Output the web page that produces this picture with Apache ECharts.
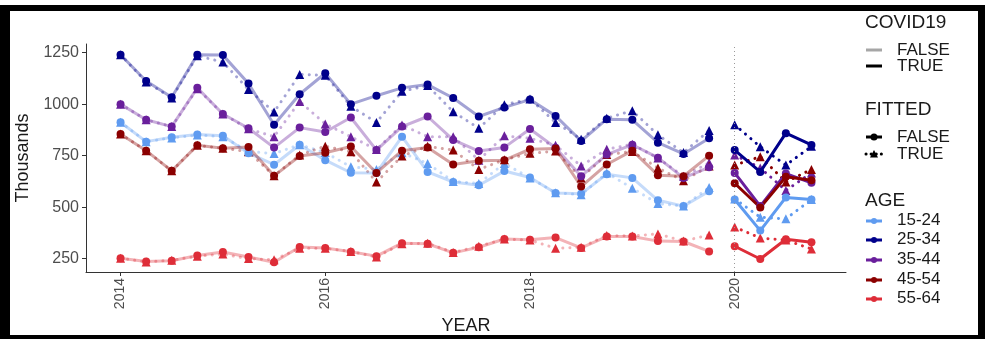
<!DOCTYPE html>
<html>
<head>
<meta charset="utf-8">
<script src="https://cdn.jsdelivr.net/npm/echarts@6/dist/echarts.min.js"></script>
<style>
  html, body { margin: 0; padding: 0; background: #ffffff; }
  #chart { width: 985px; height: 339px; }
</style>
</head>
<body>
<div id="chart"></div>
<script>
// Quarterly time points (decimal years)
const quartersPre = [2014, 2014.25, 2014.5, 2014.75, 2015, 2015.25, 2015.5, 2015.75,
                     2016, 2016.25, 2016.5, 2016.75, 2017, 2017.25, 2017.5, 2017.75,
                     2018, 2018.25, 2018.5, 2018.75, 2019, 2019.25, 2019.5, 2019.75];
const quartersCovid = [2020, 2020.25, 2020.5, 2020.75];

const ageGroups = ['15-24', '25-34', '35-44', '45-54', '55-64'];
const yearTicks = [2014, 2016, 2018, 2020];
const valueTicks = [250, 500, 750, 1000, 1250];

// Employment (thousands), observed and fitted, before 2020
const actual1524Pre = [912, 818, 839, 853, 846, 762, 706, 803, 728, 667, 666, 842, 671, 622, 606, 675, 644, 569, 565, 660, 642, 533, 505, 577];
const fitted1524Pre = [912, 818, 836, 850, 842, 770, 760, 803, 765, 696, 683, 764, 712, 625, 615, 712, 642, 570, 560, 666, 592, 517, 505, 595];
const actual2534Pre = [1240, 1112, 1033, 1240, 1238, 1100, 900, 1048, 1150, 1000, 1041, 1079, 1095, 1030, 940, 984, 1022, 943, 821, 927, 924, 813, 758, 834];
const fitted2534Pre = [1240, 1108, 1030, 1235, 1204, 1071, 962, 1144, 1140, 990, 911, 1062, 1090, 963, 883, 997, 1025, 911, 830, 932, 968, 851, 765, 872];
const actual3544Pre = [1000, 924, 891, 1079, 952, 883, 789, 886, 865, 935, 777, 891, 940, 826, 772, 790, 879, 788, 650, 755, 803, 740, 642, 693];
const fitted3544Pre = [1000, 924, 891, 1075, 952, 880, 842, 1013, 904, 842, 780, 899, 842, 842, 728, 846, 834, 800, 700, 781, 805, 738, 650, 715];
const actual4554Pre = [855, 774, 676, 800, 786, 792, 652, 748, 764, 794, 666, 774, 790, 707, 725, 728, 781, 785, 600, 707, 774, 655, 650, 750];
const fitted4554Pre = [855, 774, 676, 800, 786, 769, 652, 753, 796, 769, 622, 748, 795, 777, 683, 730, 761, 772, 642, 755, 770, 690, 628, 700];
const actual5564Pre = [252, 236, 240, 265, 282, 258, 232, 306, 302, 283, 262, 325, 322, 278, 305, 345, 342, 352, 302, 357, 357, 335, 333, 285];
const fitted5564Pre = [252, 234, 242, 262, 272, 250, 245, 300, 300, 285, 258, 322, 325, 280, 310, 345, 340, 300, 305, 362, 360, 370, 335, 365];

// Employment (thousands), observed and fitted, 2020
const actual1524Covid = [537, 386, 547, 537];
const fitted1524Covid = [540, 451, 443, 537];
const actual2534Covid = [777, 671, 859, 802];
const fitted2534Covid = [900, 793, 704, 795];
const actual3544Covid = [666, 505, 663, 618];
const fitted3544Covid = [753, 690, 581, 666];
const actual4554Covid = [616, 498, 647, 631];
const fitted4554Covid = [704, 745, 622, 683];
const actual5564Covid = [310, 248, 344, 330];
const fitted5564Covid = [403, 350, 340, 297];

const actualPre = [actual1524Pre, actual2534Pre, actual3544Pre, actual4554Pre, actual5564Pre];
const fittedPre = [fitted1524Pre, fitted2534Pre, fitted3544Pre, fitted4554Pre, fitted5564Pre];
const actualCovid = [actual1524Covid, actual2534Covid, actual3544Covid, actual4554Covid, actual5564Covid];
const fittedCovid = [fitted1524Covid, fitted2534Covid, fitted3544Covid, fitted4554Covid, fitted5564Covid];

// Colours per age group
const ageColors = ['#5f9bf0', '#00008b', '#6a1f9c', '#8b0000', '#de2d38'];

function hexToRgba(hex, a) {
  const n = parseInt(hex.slice(1), 16);
  return 'rgba(' + ((n >> 16) & 255) + ',' + ((n >> 8) & 255) + ',' + (n & 255) + ',' + a + ')';
}
function pairs(xs, ys) { return xs.map((x, i) => [x, ys[i]]); }

const FONT = 'Liberation Sans, Arial, sans-serif';
const dotted = [0.1, 7];
const series = [];

ageGroups.forEach((age, k) => {
  const col = ageColors[k];
  const faded = hexToRgba(col, 0.36);
  // pre-2020 fitted (dotted, triangles)
  series.push({
    name: age + ' fitted pre', type: 'line', data: pairs(quartersPre, fittedPre[k]),
    symbol: 'triangle', symbolSize: 9, itemStyle: { color: col },
    lineStyle: { color: faded, width: 3, type: dotted, cap: 'round' },
    z: 2
  });
  // pre-2020 observed (solid, circles)
  series.push({
    name: age + ' actual pre', type: 'line', data: pairs(quartersPre, actualPre[k]),
    symbol: 'circle', symbolSize: 8, itemStyle: { color: col },
    lineStyle: { color: faded, width: 3 },
    z: 3
  });
  // 2020 fitted
  series.push({
    name: age + ' fitted covid', type: 'line', data: pairs(quartersCovid, fittedCovid[k]),
    symbol: 'triangle', symbolSize: 9, itemStyle: { color: col },
    lineStyle: { color: col, width: 3, type: dotted, cap: 'round' },
    z: 2
  });
  // 2020 observed
  series.push({
    name: age + ' actual covid', type: 'line', data: pairs(quartersCovid, actualCovid[k]),
    symbol: 'circle', symbolSize: 8, itemStyle: { color: col },
    lineStyle: { color: col, width: 3 },
    z: 3
  });
});

// Dotted marker for the start of 2020
series[0].markLine = {
  silent: true, symbol: 'none', animation: false,
  label: { show: false },
  lineStyle: { color: '#9a9a9a', width: 1, type: [1, 3] },
  data: [{ xAxis: 2020 }]
};

// Legend drawn as graphic elements (three titled groups)
const legendX = 866, textX = 897;
const g = [];
function keyLine(y, color, dash) {
  g.push({ type: 'line', shape: { x1: legendX, y1: y, x2: legendX + 16, y2: y },
           style: { stroke: color, lineWidth: 3, lineDash: dash || null, lineCap: dash ? 'round' : 'butt' } });
}
function label(x, y, s, size) {
  g.push({ type: 'text', left: x, top: y, style: { text: s, fill: '#1a1a1a', font: size + 'px ' + FONT } });
}
// frame
g.push({ type: 'rect', shape: { x: 0, y: 5, width: 10, height: 334 }, style: { fill: '#000' } });
g.push({ type: 'rect', shape: { x: 0, y: 5, width: 985, height: 6 }, style: { fill: '#000' } });
g.push({ type: 'rect', shape: { x: 978, y: 5, width: 7, height: 334 }, style: { fill: '#000' } });
g.push({ type: 'rect', shape: { x: 0, y: 335, width: 985, height: 4 }, style: { fill: '#000' } });

// COVID19 group
label(865, 13, 'COVID19', 19);
keyLine(50, '#a6a6a6');
keyLine(66, '#000000');
label(textX, 42, 'FALSE', 17);
label(textX, 58, 'TRUE', 17);

// FITTED group
label(865, 100, 'FITTED', 19);
keyLine(137, '#000000');
g.push({ type: 'circle', shape: { cx: legendX + 8, cy: 137, r: 3.5 }, style: { fill: '#000' } });
keyLine(154, '#000000', [0.1, 5]);
g.push({ type: 'polygon', shape: { points: [[legendX + 8, 150], [legendX + 12, 157.5], [legendX + 4, 157.5]] }, style: { fill: '#000' } });
label(textX, 129, 'FALSE', 17);
label(textX, 146, 'TRUE', 17);

// AGE group
label(865, 191, 'AGE', 19);
const ageY = [221, 240, 260, 280, 299];
ageGroups.forEach((age, k) => {
  keyLine(ageY[k], ageColors[k]);
  g.push({ type: 'circle', shape: { cx: legendX + 8, cy: ageY[k], r: 3 }, style: { fill: ageColors[k] } });
  label(textX, ageY[k] - 9, age, 17);
});

const chart = echarts.init(document.getElementById('chart'), null, { renderer: 'canvas' });
chart.setOption({
  animation: false,
  backgroundColor: '#ffffff',
  grid: { left: 86, right: 139, top: 44, bottom: 67, containLabel: false, outerBoundsMode: 'none' },
  xAxis: {
    type: 'value', min: 2013.6625, max: 2021.0875,
    name: 'YEAR', nameLocation: 'middle', nameGap: 38,
    nameTextStyle: { fontFamily: FONT, fontSize: 18, color: '#1a1a1a' },
    splitLine: { show: false },
    axisLine: { show: true, onZero: false, lineStyle: { color: '#333', width: 1 } },
    axisTick: { show: true, length: 4, lineStyle: { color: '#333' }, customValues: yearTicks },
    axisLabel: { rotate: 90, margin: 6, fontFamily: FONT, fontSize: 14, color: '#4d4d4d',
                 customValues: yearTicks, formatter: v => String(v) }
  },
  yAxis: {
    type: 'value', min: 185, max: 1292,
    name: 'Thousands', nameLocation: 'middle', nameGap: 43,
    nameTextStyle: { fontFamily: FONT, fontSize: 18, color: '#1a1a1a' },
    splitLine: { show: false },
    axisLine: { show: true, lineStyle: { color: '#333', width: 1 } },
    axisTick: { show: true, length: 4, lineStyle: { color: '#333' }, customValues: valueTicks },
    axisLabel: { margin: 7, fontFamily: FONT, fontSize: 16, color: '#4d4d4d',
                 customValues: valueTicks, formatter: v => String(v) }
  },
  series: series,
  graphic: g
});
</script>
</body>
</html>
